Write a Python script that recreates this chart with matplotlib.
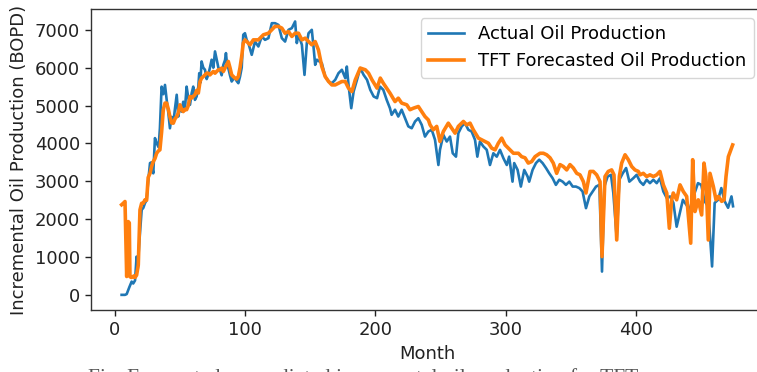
import numpy as np
import matplotlib
matplotlib.use('Agg')
import matplotlib.pyplot as plt

# actual incremental oil production (BOPD) by month
actual_month = [
    5.1, 7.7, 9, 11, 12.8, 14, 15.4, 16.6, 17.5, 18.5, 20.5, 21.8, 23, 24.3, 25.5, 26.9, 28,
    29.4, 30.7, 32, 33.5, 34.5, 35.8, 37.1, 38.4, 39.7, 41, 42.2, 43.5, 44.8, 46, 47.4, 48.6,
    49.9, 51.2, 52.4, 53.7, 55, 56.3, 57.6, 58.9, 60.1, 61.4, 62.7, 64, 64.7, 65.5, 66.5, 67.8,
    69.1, 70.4, 71.6, 72.9, 74.2, 75.5, 76.8, 78.1, 79.4, 80.6, 81.9, 83.2, 84.5, 85.2, 86, 87,
    88.3, 89.6, 90.9, 92.1, 93.4, 94.7, 96, 97.3, 98.5, 99.8, 101.1, 102.4, 105, 107.5, 110.1,
    112.7, 115.2, 117.8, 120.4, 122.9, 125.5, 128.1, 130.6, 133.2, 135.8, 138.3, 139.6, 140.9,
    143.5, 145.5, 147.3, 148.6, 151.1, 152.4, 153.7, 155, 158.8, 161.4, 164, 166.5, 169.1,
    171.6, 174.2, 176.8, 178, 179.3, 181.4, 183.2, 185.8, 188.3, 190.9, 193.5, 196, 198.6,
    201.2, 203.5, 206, 208.6, 211.1, 212.4, 215, 217.5, 220.1, 222.7, 225.2, 227.8, 230.4,
    232.9, 235.5, 238, 240.6, 243.2, 245.7, 248.3, 249.5, 252.1, 254.7, 257.2, 259.3, 261.8,
    263.6, 266.2, 268.7, 271.3, 273.8, 276.4, 278.2, 280.2, 282.8, 285.4, 287.9, 290.5, 293.1,
    295.6, 298.2, 300.8, 302.6, 305.2, 306.5, 309.1, 311.6, 314.2, 316.8, 318, 320.6, 323.2,
    325.7, 328.3, 330.9, 333.4, 336, 338.5, 341.1, 343.7, 346.2, 348.8, 351.4, 353.9, 356.5,
    359, 360.3, 361.6, 364.2, 366.7, 369.3, 371.9, 373.9, 375.7, 378.2, 380.8, 382.6, 385.2,
    387.2, 389.8, 392.4, 394.9, 397.9, 400.5, 403.1, 405.6, 408.2, 410.7, 413.3, 415.9, 418.4,
    421, 423.6, 426.1, 428.7, 431.2, 433.9, 436, 438.6, 441.2, 443.7, 447.6, 450.1, 452.7,
    455.3, 458.4, 460.4, 463, 465.5, 468.1, 470.7, 473.3, 474.5,
]
actual_bopd = [
    0, 0, 20, 200, 350, 300, 380, 1010, 700, 1300, 2245, 2300, 2420, 2500, 3000, 3480, 3500,
    3210, 4140, 4005, 3900, 4400, 5500, 5300, 5545, 5150, 4800, 4400, 4700, 4535, 4900, 5285, 4710,
    4975, 4840, 5100, 4900, 5500, 5200, 5020, 5330, 5500, 5150, 5240, 5500, 5855, 5600, 6165, 6000,
    5945, 5700, 5810, 6000, 6210, 6000, 6430, 6210, 6000, 5945, 5800, 6075, 6200, 6385, 6100, 5990,
    5800, 5635, 5700, 5725, 5650, 5590, 5765, 6000, 6870, 6910, 6735, 6650, 6340, 6690, 6560,
    6825, 6735, 6780, 7175, 7175, 7130, 6780, 6690, 7000, 7045, 7220, 6650, 6870,
    6605, 5810, 6650, 6910, 7000, 6560, 6075, 6210, 6120, 5765, 5635, 5590, 5680,
    5855, 5945, 5725, 6030, 5545, 4930, 5370, 5680, 5990, 5810, 5680, 5415, 5240,
    5195, 5500, 5415, 5150, 4930, 4755, 4890, 4710, 4890, 4665, 4450, 4400, 4580,
    4665, 4490, 4180, 4315, 4360, 4095, 3430, 3830, 4225, 4050, 4180, 3740, 3650,
    4270, 4450, 4535, 4360, 4315, 4095, 3650, 4050, 3920, 3830, 3430, 3740, 3650,
    3830, 3610, 3430, 3650, 2990, 3480, 3300, 2860, 3300, 3125, 2990, 3300, 3480,
    3570, 3480, 3350, 3210, 3080, 2905, 3040, 2990, 2905, 2990, 2860, 2860, 2820,
    2730, 2510, 2290, 2600, 2730, 2860, 2905, 615, 2860, 3125, 3170, 2690, 1500,
    3040, 3210, 3350, 2990, 3080, 3170, 2990, 2905, 3040, 2950, 3040, 2950, 3080,
    2730, 2560, 2600, 2430, 1800, 2200, 2510, 2380, 2250, 2560, 2950, 2905, 2470,
    2340, 750, 2430, 2510, 2820, 2470, 2300, 2600, 2340,
]

# TFT forecast (BOPD) by month
tft_month = [
    5.1, 6.4, 7.7, 9, 10.2, 11, 11.5, 12.5, 13.5, 14.5, 15.4, 16.6, 17.9, 19.2, 20.5, 21.8, 23,
    24.3, 25.5, 26.9, 28.2, 29.4, 30.7, 32, 33.3, 34.5, 35.8, 37.1, 38.4, 39.7, 41, 42.2, 43.5,
    44.8, 46.1, 47.4, 48.6, 49.9, 51.2, 52.4, 53.7, 55, 56.3, 57.6, 58.9, 60.1, 61.4, 62.7, 64,
    65.3, 66.5, 67.8, 69.1, 70.4, 71.6, 72.9, 74.2, 75.5, 76.8, 78.1, 79.4, 80.6, 81.9, 83.2,
    84.5, 85.8, 87, 88.3, 89.6, 90.9, 92.1, 93.4, 94.7, 96, 97.3, 98.5, 99.8, 103.7, 106.2,
    110.1, 114, 117.8, 120.4, 122.9, 125.5, 128.1, 130.6, 133.2, 135.8, 138.3, 140.9, 143.5,
    146, 148.6, 151.1, 153.7, 156.2, 158.8, 161.4, 164, 166.5, 169.1, 171.6, 174.2, 176.8,
    179.3, 181.9, 184.5, 188.3, 192.2, 194.7, 197.3, 201.2, 203.7, 206, 208.6, 211.1, 215,
    217.5, 220.1, 224, 226.5, 229.1, 232.9, 235.5, 238, 240.6, 241.9, 244.4, 247, 249.5,
    252.1, 255.9, 258.5, 261.1, 263.6, 267.5, 270, 272.6, 275.1, 279, 281.5, 284.1, 286.7,
    289.2, 291.8, 294.3, 296.9, 299.5, 303.3, 305.9, 309.7, 312.2, 314.8, 317.3, 319.9, 322.5,
    326.3, 328.9, 331.4, 334, 336.5, 339.1, 341.7, 344.2, 346.8, 349.3, 351.9, 354.5, 357,
    359.6, 361.6, 364.7, 367.2, 369.8, 372.4, 373.9, 376.2, 378.7, 381.3, 383.1, 385.2, 387.2,
    389, 391.6, 394.1, 396.7, 399.2, 401.8, 403.1, 405.6, 408.2, 410.7, 413.3, 415.9, 418.4,
    421, 423.6, 425.6, 427.4, 428.6, 431.2, 433.8, 436.3, 438.9, 442, 443.5, 445.3, 447.8,
    450.4, 452.2, 453.7, 455.5, 456.8, 459.4, 461.4, 463.2, 465.8, 467.6, 469.1, 470.9, 474.2,
]
tft_bopd = [
    2380, 2420, 2465, 485, 1935, 1900, 480, 460, 470, 500, 460, 520, 790, 2245, 2420, 2420, 2510,
    2500, 3100, 3210, 3400, 3520, 3600, 3740, 3800, 3830, 4300, 4890, 5065, 5065, 4900, 4700, 4540,
    4535, 4650, 4710, 4800, 5020, 4900, 4840, 4900, 4890, 5000, 5240, 5200, 5240, 5285, 5400, 5330,
    5635, 5725, 5765, 5810, 5855, 5855, 5810, 5855, 5900, 5855, 5900, 5945, 5945, 5990, 5900,
    5990, 6075, 6165, 6000, 5810, 5765, 5725, 5700, 5765, 6000, 6300, 6650, 6735, 6605, 6735,
    6735, 6870, 6910, 7000, 7090, 7090, 7045, 6910, 6955, 6825, 6910, 6910, 6735,
    6780, 6690, 6605, 6690, 6470, 6030, 5765, 5635, 5545, 5545, 5590, 5635, 5635,
    5460, 5370, 5680, 5990, 5945, 5855, 5680, 5460, 5725, 5590, 5460, 5330, 5105,
    5195, 5065, 5020, 4890, 4930, 4975, 4840, 4710, 4620, 4490, 4360, 4450, 4050,
    4315, 4535, 4400, 4270, 4450, 4580, 4490, 4535, 4360, 4140, 4095, 4050, 4005,
    3875, 3830, 4005, 4140, 3960, 3830, 3740, 3740, 3650, 3620, 3480, 3520, 3650,
    3740, 3740, 3700, 3620, 3480, 3210, 3440, 3390, 3300, 3440, 3350, 3210, 3170,
    2990, 2690, 3260, 3260, 3170, 2990, 1010, 3125, 3260, 3300, 3170, 1450, 3125,
    3480, 3700, 3570, 3390, 3300, 3260, 3170, 3210, 3125, 3170, 3125, 3170, 3260,
    2905, 2690, 1760, 2510, 2690, 2510, 2905, 2730, 2600, 1365, 3570, 2200, 2510,
    2110, 3480, 3125, 1450, 3210, 2860, 2510, 2600, 2470, 2510, 3125, 3650, 3960,
]

fs = 13
plt.rcParams['font.size'] = fs
plt.rcParams['font.family'] = 'DejaVu Sans'

fig = plt.figure(figsize=(7.57, 3.72), dpi=100)
ax = fig.add_axes([91 / 757, 62 / 372, 672 / 757, 301 / 372])

ax.plot(actual_month, actual_bopd, color='#1f77b4', lw=1.9, label='Actual Oil Production')
ax.plot(tft_month, tft_bopd, color='#ff7f0e', lw=2.6, label='TFT Forecasted Oil Production')

ax.set_xlim(-18.4, 497.5)
ax.set_ylim(-400, 7550)
ax.set_xticks([0, 100, 200, 300, 400])
ax.set_yticks(np.arange(0, 7001, 1000))
ax.tick_params(length=4.4, width=1.0, colors='#222222', labelcolor='#222222')
for sp in ax.spines.values():
    sp.set_linewidth(1.0)
    sp.set_color('#333333')
# the right edge of the frame falls outside the saved image
ax.spines['right'].set_visible(False)

ax.set_xlabel('Month', fontsize=fs, color='#222222', labelpad=4)
ax.set_ylabel('Incremental Oil Production (BOPD)', fontsize=fs, color='#222222', labelpad=5)

ax.legend(loc='upper right', fontsize=fs, borderaxespad=0.5)

# figure caption, mostly below the bottom edge
fig.text(88 / 757, 3.5 / 372, 'Fig. Forecasted vs predicted incremental oil production for TFT',
         fontsize=15.5, family='Liberation Serif', color='#555555', va='top', ha='left')

fig.savefig('out.png', dpi=100)
